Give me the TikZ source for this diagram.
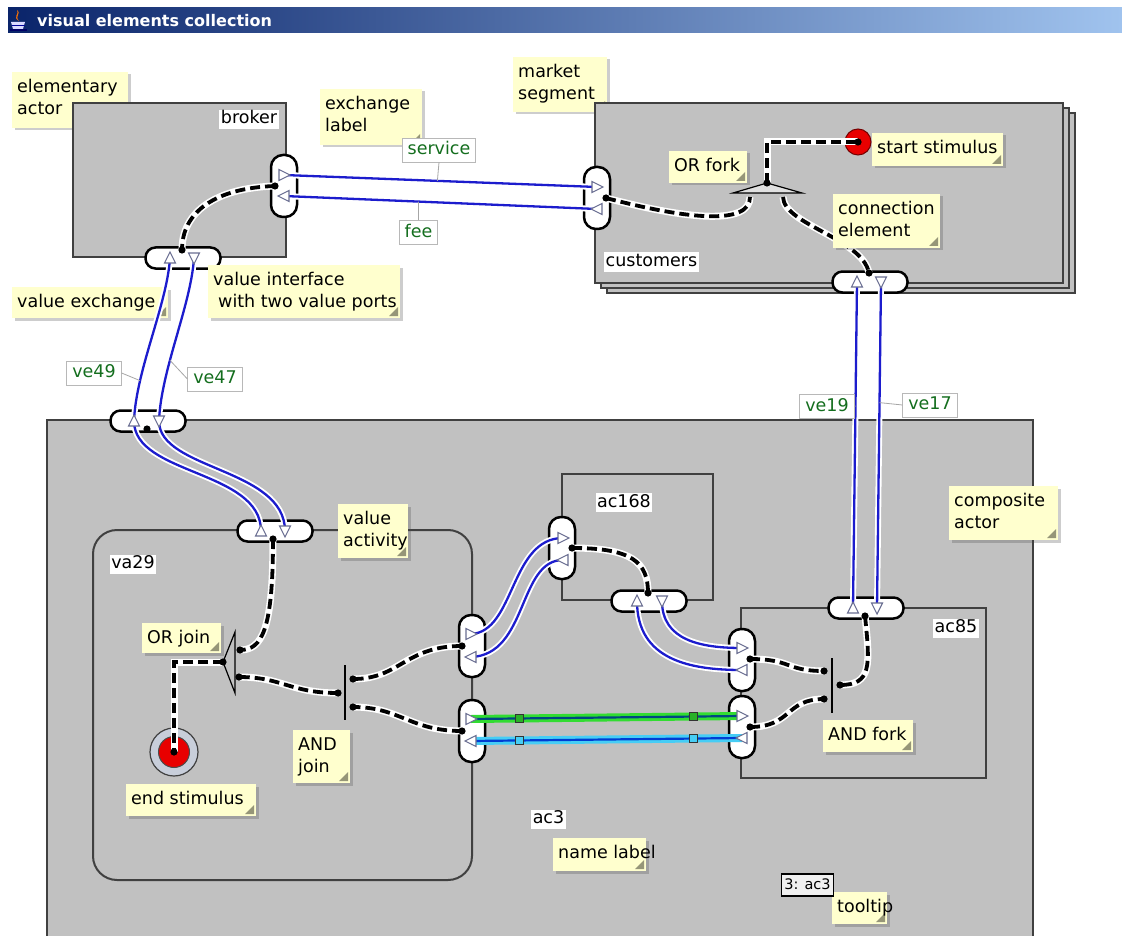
\documentclass[tikz,border=0pt]{standalone}
\usepackage{fontspec}
\setmainfont{DejaVu Sans}
\usetikzlibrary{shadows}

\definecolor{actgray}{RGB}{193,193,193}
\definecolor{edgegray}{RGB}{64,64,64}
\definecolor{noteyellow}{RGB}{255,255,206}
\definecolor{foldcol}{RGB}{150,150,120}
\definecolor{exblue}{RGB}{28,28,205}
\definecolor{labelgreen}{RGB}{20,110,30}
\definecolor{titleL}{RGB}{10,36,106}
\definecolor{titleR}{RGB}{160,195,238}
\definecolor{portcol}{RGB}{105,110,145}
\definecolor{stimred}{RGB}{232,0,0}
\definecolor{ringcol}{RGB}{200,206,218}
\definecolor{selgreenc}{RGB}{50,220,50}
\definecolor{selgreenk}{RGB}{0,70,130}
\definecolor{selcyanc}{RGB}{70,205,245}
\definecolor{selcyank}{RGB}{0,60,210}

\newcommand\labfont{\fontsize{17.5}{22}\selectfont}
\newcommand\tipfont{\fontsize{14.5}{17}\selectfont}
\newcommand\barfont{\fontsize{16}{19}\selectfont\bfseries}

\tikzset{
  actor/.style={rectangle, draw=edgegray, line width=2pt, fill=actgray, inner sep=0pt, outer sep=0pt, anchor=north west},
  frame/.style={rectangle, draw=edgegray, line width=2pt, inner sep=0pt, outer sep=0pt, anchor=north west},
  notebg/.style={rectangle, fill=noteyellow, inner sep=0pt, outer sep=0pt, anchor=north west,
    drop shadow={shadow xshift=2.5pt, shadow yshift=-2.5pt, opacity=0.28, fill=black!70}},
  notetext/.style={anchor=north west, inner sep=0pt, align=left, font=\labfont},
  namelabel/.style={fill=white, inner xsep=1.5pt, inner ysep=1pt, font=\labfont, text height=13pt, text depth=4pt},
  exlabel/.style={fill=white, draw=black!28, line width=0.8pt, font=\labfont, text=labelgreen,
    inner xsep=5.5pt, inner ysep=0pt, minimum height=24pt, text height=13pt, text depth=4pt},
  tick/.style={draw=black!35, line width=0.8pt},
  pill/.style={rectangle, draw=black, line width=2.5pt, fill=white, rounded corners=10pt, inner sep=0pt},
  vpill/.style={pill, minimum width=26pt, minimum height=62pt, rounded corners=12pt},
  hpill/.style={pill, minimum width=75pt, minimum height=21pt},
  valex/.style={draw=exblue, line width=2.3pt, preaction={draw=white, line width=6pt}},
  selgreen/.style={draw=selgreenk, line width=2.2pt, preaction={draw=selgreenc, line width=8pt}},
  selcyan/.style={draw=selcyank, line width=2.2pt, preaction={draw=selcyanc, line width=8pt}},
  handle/.style={rectangle, draw=black!80, line width=1pt, minimum size=8pt, inner sep=0pt},
  depend/.style={draw=black, line width=3.8pt, dash pattern=on 10pt off 5pt,
    preaction={draw=white, line width=7pt, solid}},
  barline/.style={draw=black, line width=1.5pt},
  orshape/.style={draw=black, line width=1.2pt},
  portline/.style={draw=portcol, line width=1.1pt, fill=white, line join=miter},
  pics/pup/.style={code={\path[portline] (-5.5,5) -- (0,-6) -- (5.5,5) -- cycle;}},
  pics/pdown/.style={code={\path[portline] (-5.5,-5) -- (0,6) -- (5.5,-5) -- cycle;}},
  pics/pright/.style={code={\path[portline] (-5,-5.5) -- (6,0) -- (-5,5.5) -- cycle;}},
  pics/pleft/.style={code={\path[portline] (5,-5.5) -- (-6,0) -- (5,5.5) -- cycle;}},
}

% sticky note: name, left, top, width, height, text
\newcommand\stickynote[6]{%
  \node[notebg, minimum width=#4, minimum height=#5] (#1) at (#2,#3) {};
  \fill[foldcol] (#1.south east) ++(-11,-2) -- ++(9,-9) -- ++(0,9) -- cycle;
  \node[notetext] (#1-txt) at ([shift={(5,5)}]#1.north west) {\strut #6};
}

\begin{document}
\begin{tikzpicture}[x=1pt,y=-1pt]
\useasboundingbox (0,0) rectangle (1122,936);
\fill[white] (0,0) rectangle (1122,936);

% window title bar
\shade[left color=titleL, right color=titleR] (8,8) rectangle (1122,33);
\fill[orange!90!red] (17,10) .. controls (22,13) and (14,16) .. (19,21) .. controls (12,17) and (20,14) .. (17,10);
\fill[white!85!blue] (11,22) -- (25,22) -- (23,29) -- (13,29) -- cycle;
\draw[blue!60!black, line width=0.8pt] (11.5,25) -- (24.5,25);
\fill[blue!40!black] (10,29.5) rectangle (27,31.5);
\node[font=\barfont, text=white, anchor=west, inner sep=0pt] (title) at (37,20.5) {visual elements collection};

% notes lying under the actors
\stickynote{nElem}{12}{72}{116}{56}{elementary\\actor}
\stickynote{nMarket}{513}{57}{94}{55}{market\\segment}

% elementary actor
\node[actor, minimum width=213, minimum height=154] (broker) at (73,103) {};
% market segment (stacked)
\node[actor, minimum width=468, minimum height=180] (cust3) at (607,113) {};
\node[actor, minimum width=468, minimum height=180] (cust2) at (601,108) {};
\node[actor, minimum width=468, minimum height=180] (customers) at (595,103) {};
% composite actor and its parts
\node[actor, minimum width=986, minimum height=540] (ac3) at (47,420) {};
\node[frame, rounded corners=24pt, minimum width=379, minimum height=350] (va29) at (93,530) {};
\node[frame, minimum width=151, minimum height=126] (ac168) at (562,474) {};
\node[frame, minimum width=245, minimum height=170] (ac85) at (741,608) {};

% name labels
\node[namelabel] (brokerName) at (249,119.5) {broker};
\node[namelabel] (custName) at (651.5,262) {customers};
\node[namelabel] (vaName) at (133,564) {va29};
\node[namelabel] (ac168Name) at (624,502.5) {ac168};
\node[namelabel] (ac85Name) at (956,628) {ac85};
\node[namelabel] (ac3Name) at (548.5,819) {ac3};

% value interfaces
\node[vpill] (brR) at (284,186) {};
\node[hpill] (brB) at (183,258) {};
\node[vpill] (cuL) at (597,198) {};
\node[hpill] (cuB) at (870,282) {};
\node[hpill] (acT) at (148,421) {};
\node[hpill] (vaT) at (275,531) {};
\node[vpill] (vaR1) at (472,646) {};
\node[vpill] (vaR2) at (472,731) {};
\node[vpill] (hcL) at (562,548) {};
\node[hpill] (hcB) at (649,601) {};
\node[vpill] (kfL1) at (742,660) {};
\node[vpill] (kfL2) at (742,727) {};
\node[hpill] (kfT) at (866,608) {};

% value ports
\coordinate (brR-o) at (284,175);  \coordinate (brR-i) at (284,196);
\coordinate (brB-u) at (170,258);  \coordinate (brB-d) at (194,258);
\coordinate (cuL-o) at (597,187);  \coordinate (cuL-i) at (597,209);
\coordinate (cuB-u) at (857,282);  \coordinate (cuB-d) at (881,282);
\coordinate (acT-u) at (134,421);  \coordinate (acT-d) at (159,421);
\coordinate (vaT-u) at (261,531);  \coordinate (vaT-d) at (285,531);
\coordinate (vaR1-o) at (471,634); \coordinate (vaR1-i) at (471,657);
\coordinate (vaR2-o) at (471,719); \coordinate (vaR2-i) at (471,741);
\coordinate (hcL-o) at (563,538);  \coordinate (hcL-i) at (563,560);
\coordinate (hcB-u) at (637,601);  \coordinate (hcB-d) at (662,601);
\coordinate (kfL1-o) at (742,648); \coordinate (kfL1-i) at (742,670);
\coordinate (kfL2-o) at (742,716); \coordinate (kfL2-i) at (742,738);
\coordinate (kfT-u) at (853,608);  \coordinate (kfT-d) at (877,608);

% connection points
\coordinate (brR-c) at (275,186);  \coordinate (brB-c) at (182,250);
\coordinate (cuL-c) at (606,198);  \coordinate (cuB-c) at (869,273);
\coordinate (acT-c) at (147,429);  \coordinate (vaT-c) at (273,539);
\coordinate (vaR1-c) at (462,646); \coordinate (vaR2-c) at (462,731);
\coordinate (hcL-c) at (572,548);  \coordinate (hcB-c) at (648,593);
\coordinate (kfL1-c) at (750,659); \coordinate (kfL2-c) at (750,727);
\coordinate (kfT-c) at (865,616);
\coordinate (fork-top) at (767,183); \coordinate (fork-l) at (750,197); \coordinate (fork-r) at (783,197);
\coordinate (orj-in1) at (240,650); \coordinate (orj-in2) at (239,677); \coordinate (orj-out) at (223,662);
\coordinate (andj-in1) at (353,679); \coordinate (andj-in2) at (353,707); \coordinate (andj-out) at (338,693);
\coordinate (andf-in) at (840,685); \coordinate (andf-o1) at (824,671); \coordinate (andf-o2) at (824,699);

% stimuli
\node[circle, fill=stimred, draw=red!45!black, line width=1pt, minimum size=26pt, inner sep=0pt] (startStim) at (858,142) {};
\node[circle, fill=ringcol, draw=black!75, line width=1.2pt, minimum size=48pt, inner sep=0pt] (endRing) at (174,752) {};
\node[circle, fill=stimred, draw=black!70, line width=1pt, minimum size=31pt, inner sep=0pt] (endStim) at (174,752) {};

% OR fork, OR join, AND join, AND fork
\path[orshape, fill=black!12] (733,193) -- (fork-top) -- (802,193) -- cycle;
\path[orshape] (235,632) -- (orj-out) -- (235,693) -- cycle;
\draw[barline] (345,665) -- (345,720);
\draw[barline] (832,658) -- (832,713);

% connection elements
\draw[depend] (brR-c) .. controls (215,188) and (182,212) .. (brB-c);
\draw[depend] (cuL-c) .. controls (690,220) and (750,225) .. (fork-l);
\draw[depend] (fork-r) .. controls (784,225) and (862,238) .. (cuB-c);
\draw[depend] (fork-top) |- (startStim.center);
\draw[depend] (vaT-c) .. controls (273,630) and (262,650) .. (orj-in1);
\draw[depend] (andj-out) .. controls (290,693) and (282,677) .. (orj-in2);
\draw[depend] (vaR1-c) .. controls (405,646) and (400,679) .. (andj-in1);
\draw[depend] (vaR2-c) .. controls (410,731) and (400,707) .. (andj-in2);
\draw[depend] (orj-out) -| (endStim.center);
\draw[depend] (hcL-c) .. controls (632,548) and (648,562) .. (hcB-c);
\draw[depend] (kfT-c) .. controls (870,665) and (872,685) .. (andf-in);
\draw[depend] (kfL1-c) .. controls (792,659) and (785,671) .. (andf-o1);
\draw[depend] (kfL2-c) .. controls (792,727) and (785,699) .. (andf-o2);

% notes lying under the value exchanges
\stickynote{nIface}{208}{265}{192}{53}{value interface\\\hspace*{5pt}with two value ports}
\stickynote{nExch}{12}{287}{156}{31}{value exchange}
\stickynote{nExLabel}{320}{89}{102}{56}{exchange\\label}

% value exchanges
\draw[valex] (brR-o) -- (cuL-o);
\draw[valex] (brR-i) -- (cuL-i);
\draw[valex] (brB-u) .. controls (167,305) and (136,370) .. (acT-u);
\draw[valex] (brB-d) .. controls (191,305) and (161,370) .. (acT-d);
\draw[valex] (acT-u) .. controls (134,475) and (261,470) .. (vaT-u);
\draw[valex] (acT-d) .. controls (159,470) and (285,468) .. (vaT-d);
\draw[valex] (vaR1-o) .. controls (515,632) and (510,538) .. (hcL-o);
\draw[valex] (vaR1-i) .. controls (528,655) and (518,560) .. (hcL-i);
\draw[valex] (hcB-u) .. controls (637,660) and (690,670) .. (kfL1-i);
\draw[valex] (hcB-d) .. controls (662,640) and (700,648) .. (kfL1-o);
\draw[valex] (cuB-u) -- (kfT-u);
\draw[valex] (cuB-d) -- (kfT-d);
\draw[selgreen] (vaR2-o) -- (kfL2-o);
\draw[selcyan] (vaR2-i) -- (kfL2-i);

% selection handles
\path (vaR2-o) -- (kfL2-o) coordinate[pos=0.18] (g1) coordinate[pos=0.82] (g2);
\path (vaR2-i) -- (kfL2-i) coordinate[pos=0.18] (c1) coordinate[pos=0.82] (c2);
\node[handle, fill=selgreenc!80!black] (gh1) at (g1) {};
\node[handle, fill=selgreenc!80!black] (gh2) at (g2) {};
\node[handle, fill=selcyanc] (ch1) at (c1) {};
\node[handle, fill=selcyanc] (ch2) at (c2) {};

% port triangles
\pic at (brR-o) {pright};  \pic at (brR-i) {pleft};
\pic at (cuL-o) {pright};  \pic at (cuL-i) {pleft};
\pic at (vaR1-o) {pright}; \pic at (vaR1-i) {pleft};
\pic at (vaR2-o) {pright}; \pic at (vaR2-i) {pleft};
\pic at (hcL-o) {pright};  \pic at (hcL-i) {pleft};
\pic at (kfL1-o) {pright}; \pic at (kfL1-i) {pleft};
\pic at (kfL2-o) {pright}; \pic at (kfL2-i) {pleft};
\pic at (brB-u) {pup}; \pic at (brB-d) {pdown};
\pic at (cuB-u) {pup}; \pic at (cuB-d) {pdown};
\pic at (acT-u) {pup}; \pic at (acT-d) {pdown};
\pic at (vaT-u) {pup}; \pic at (vaT-d) {pdown};
\pic at (hcB-u) {pup}; \pic at (hcB-d) {pdown};
\pic at (kfT-u) {pup}; \pic at (kfT-d) {pdown};

% connection dots
\foreach \c in {brR-c,brB-c,cuL-c,cuB-c,acT-c,vaT-c,vaR1-c,vaR2-c,hcL-c,hcB-c,kfL1-c,kfL2-c,kfT-c,
  fork-top,orj-in1,orj-in2,orj-out,andj-in1,andj-in2,andj-out,andf-in,andf-o1,andf-o2}
  \fill (\c) circle[radius=3.6pt];
\fill (startStim.center) circle[radius=3.6pt];
\fill (endStim.center) circle[radius=3.6pt];

% exchange labels
\path (brR-o) -- (cuL-o) coordinate[pos=0.49] (svc-pt);
\path (brR-i) -- (cuL-i) coordinate[pos=0.43] (fee-pt);
\path (brB-u) .. controls (167,305) and (136,370) .. (acT-u) coordinate[pos=0.75] (ve49-pt);
\path (brB-d) .. controls (191,305) and (161,370) .. (acT-d) coordinate[pos=0.63] (ve47-pt);
\path (cuB-u) -- (kfT-u) coordinate[pos=0.38] (ve19-pt);
\path (cuB-d) -- (kfT-d) coordinate[pos=0.37] (ve17-pt);
\node[exlabel] (svcLab) at (439,150) {service};
\node[exlabel] (feeLab) at (418.5,232.5) {fee};
\node[exlabel] (ve49Lab) at (94,373) {ve49};
\node[exlabel] (ve47Lab) at (215,379) {ve47};
\node[exlabel] (ve19Lab) at (827,406.5) {ve19};
\node[exlabel] (ve17Lab) at (930,405) {ve17};
\draw[tick] (svcLab.south) -- (svc-pt);
\draw[tick] (feeLab.north) -- (fee-pt);
\draw[tick] (ve49Lab.east) -- (ve49-pt);
\draw[tick] (ve47Lab.west) -- (ve47-pt);
\draw[tick] (ve19Lab.east) -- (ve19-pt);
\draw[tick] (ve17Lab.west) -- (ve17-pt);

% notes on top
\stickynote{nOrFork}{669}{151}{78}{32}{OR fork}
\stickynote{nStart}{872}{133}{131}{33}{start stimulus}
\stickynote{nConn}{833}{194}{107}{54}{connection\\element}
\stickynote{nActivity}{338}{504}{70}{54}{value\\activity}
\stickynote{nComposite}{949}{486}{109}{54}{composite\\actor}
\stickynote{nOrJoin}{142}{623}{79}{30}{OR join}
\stickynote{nAndJoin}{293}{730}{57}{53}{AND\\join}
\stickynote{nEnd}{126}{784}{130}{32}{end stimulus}
\stickynote{nAndFork}{823}{720}{90}{32}{AND fork}
\stickynote{nName}{553}{838}{93}{33}{name label}
\stickynote{nTip}{832}{892}{55}{32}{tooltip}

% tooltip
\node[draw=black, line width=1.5pt, fill=black!6, font=\tipfont, inner xsep=3pt, inner ysep=0pt,
  minimum height=22pt, text height=11pt, text depth=3pt] (tooltip) at (807.5,885) {3: ac3};
\end{tikzpicture}
\end{document}
